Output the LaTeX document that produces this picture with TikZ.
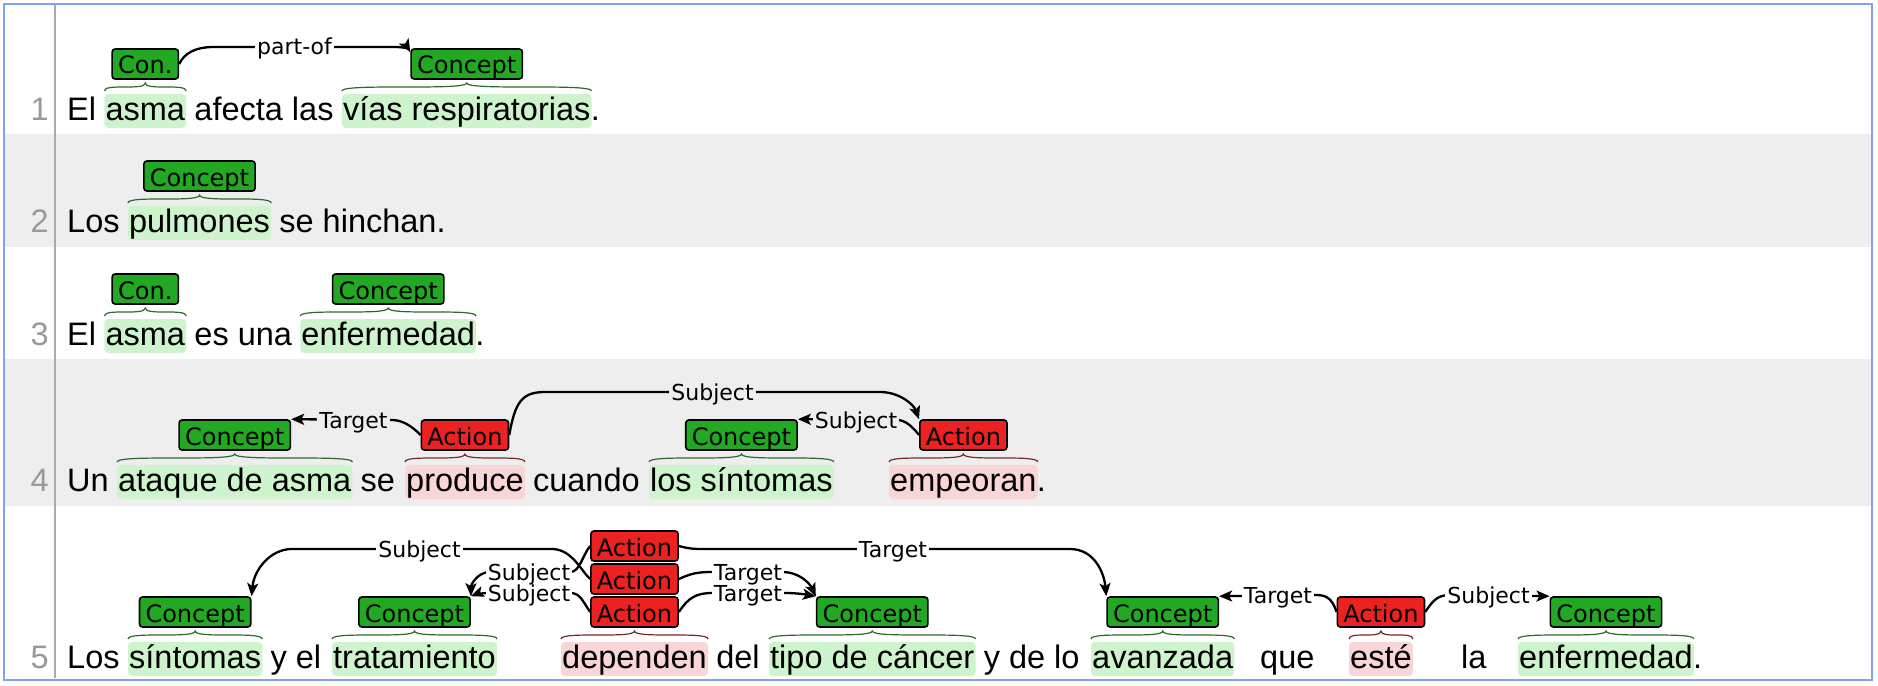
\documentclass[tikz,border=0pt]{standalone}
\usepackage{fontspec}
\setmainfont{Liberation Sans}
\newfontfamily\lblf{DejaVu Sans}
\usetikzlibrary{calc,arrows.meta}
\definecolor{cg}{RGB}{34,168,34}
\definecolor{cr}{RGB}{236,34,34}
\definecolor{hlg}{RGB}{205,244,205}
\definecolor{hlr}{RGB}{249,214,214}
\definecolor{brg}{RGB}{45,105,45}
\definecolor{brr}{RGB}{120,40,40}
\definecolor{rowgrey}{RGB}{238,238,238}
\definecolor{numgrey}{RGB}{153,153,153}
\definecolor{sepgrey}{RGB}{170,170,170}
\definecolor{bordercol}{RGB}{128,160,250}
\pgfdeclarelayer{bg}
\pgfsetlayers{bg,main}
\def\spc{9.04}
\tikzset{
  txt/.style={anchor=base west, inner sep=0pt, font=\fontsize{32.5}{39}\selectfont},
  lnum/.style={anchor=base east, inner sep=0pt, text=numgrey, font=\fontsize{32.5}{39}\selectfont},
  lbox/.style={draw=black, line width=1.6pt, rounded corners=3pt, inner xsep=6pt, inner ysep=0pt,
    text height=25pt, text depth=5pt, anchor=base, font=\lblf\fontsize{24}{28}\selectfont},
  alab/.style={fill=white, inner xsep=2pt, inner ysep=0pt, text height=16pt, text depth=0pt,
    font=\lblf\fontsize{22}{26}\selectfont},
  alabg/.style={alab, fill=rowgrey},
  arc/.style={draw=black, line width=2.3pt, -{Stealth[length=13pt,width=11pt,inset=3pt]}},
  brcg/.style={draw=brg, line width=1.2pt},
  brcr/.style={draw=brr, line width=1.2pt}
}
\newcommand\annotw[5]{%
  \begin{pgfonlayer}{bg}
    \fill[hl#4, rounded corners=4pt] ($(#1.base west)+(-1,26)$) rectangle ($(#1.base east)+(1,-8)$);
  \end{pgfonlayer}
  \draw[brc#4] let \p1=(#1.base west), \p2=(#1.base east), \n1={(\x1+\x2)/2} in
    (\x1-1,\y1+29) .. controls (\x1-1,\y1+37) and (\n1,\y1+29) .. (\n1,\y1+37)
    .. controls (\n1,\y1+29) and (\x2+1,\y1+37) .. (\x2+1,\y1+29);
  \node[lbox, fill=c#4] (#2) at ($(#1.base)+(0,#5)$) {#3};
}
\begin{document}
\begin{tikzpicture}[x=1pt,y=1pt]
\useasboundingbox (0,0) rectangle (1878,-685);
\begin{pgfonlayer}{bg}
  \fill[white] (0,0) rectangle (1878,-685);
  \fill[rowgrey] (5,-134) rectangle (1871,-247);
  \fill[rowgrey] (5,-359) rectangle (1871,-506);
\end{pgfonlayer}
\draw[sepgrey, line width=1.5pt] (55,-5) -- (55,-678);

% line numbers
\node[lnum] (n1) at (49,-120) {1};
\node[lnum] (n2) at (49,-232) {2};
\node[lnum] (n3) at (49,-345) {3};
\node[lnum] (n4) at (49,-491) {4};
\node[lnum] (n5) at (49,-668) {5};

% row 1
\node[txt] (r1a) at (67,-120) {El};
\node[txt] (r1w1) at ($(r1a.base east)+(\spc,0)$) {asma};
\node[txt] (r1b) at ($(r1w1.base east)+(\spc,0)$) {afecta las};
\node[txt] (r1w2) at ($(r1b.base east)+(\spc,0)$) {vías respiratorias};
\node[txt] (r1c) at (r1w2.base east) {.};
\annotw{r1w1}{b11}{Con.}{g}{46}
\annotw{r1w2}{b12}{Concept}{g}{46}

% row 2
\node[txt] (r2a) at (67,-232) {Los};
\node[txt] (r2w1) at ($(r2a.base east)+(\spc,0)$) {pulmones};
\node[txt] (r2b) at ($(r2w1.base east)+(\spc,0)$) {se hinchan.};
\annotw{r2w1}{b21}{Concept}{g}{46}

% row 3
\node[txt] (r3a) at (67,-345) {El};
\node[txt] (r3w1) at ($(r3a.base east)+(\spc,0)$) {asma};
\node[txt] (r3b) at ($(r3w1.base east)+(\spc,0)$) {es una};
\node[txt] (r3w2) at ($(r3b.base east)+(\spc,0)$) {enfermedad};
\node[txt] (r3c) at (r3w2.base east) {.};
\annotw{r3w1}{b31}{Con.}{g}{46}
\annotw{r3w2}{b32}{Concept}{g}{46}

% row 4
\node[txt] (r4a) at (67,-491) {Un};
\node[txt] (r4w1) at (118,-491) {ataque de asma};
\node[txt] (r4b) at ($(r4w1.base east)+(\spc,0)$) {se};
\node[txt] (r4w2) at (406,-491) {produce};
\node[txt] (r4c) at ($(r4w2.base east)+(\spc,0)$) {cuando};
\node[txt] (r4w3) at (650,-491) {los síntomas};
\node[txt] (r4w4) at (890,-491) {empeoran};
\node[txt] (r4d) at (r4w4.base east) {.};
\annotw{r4w1}{c41}{Concept}{g}{46}
\annotw{r4w2}{a41}{Action}{r}{46}
\annotw{r4w3}{c42}{Concept}{g}{46}
\annotw{r4w4}{a42}{Action}{r}{46}

% row 5
\node[txt] (r5a) at (67,-668) {Los};
\node[txt] (r5w1) at (129,-668) {síntomas};
\node[txt] (r5b) at ($(r5w1.base east)+(\spc,0)$) {y el};
\node[txt] (r5w2) at (333,-668) {tratamiento};
\node[txt] (r5w3) at (562,-668) {dependen};
\node[txt] (r5c) at ($(r5w3.base east)+(\spc,0)$) {del};
\node[txt] (r5w4) at (770,-668) {tipo de cáncer};
\node[txt] (r5d) at ($(r5w4.base east)+(\spc,0)$) {y de lo};
\node[txt] (r5w5) at (1092,-668) {avanzada};
\node[txt] (r5e) at (1260,-668) {que};
\node[txt] (r5w6) at (1350,-668) {esté};
\node[txt] (r5f) at (1461,-668) {la};
\node[txt] (r5w7) at (1519,-668) {enfermedad};
\node[txt] (r5g) at (r5w7.base east) {.};
\annotw{r5w1}{c51}{Concept}{g}{46}
\annotw{r5w2}{c52}{Concept}{g}{46}
\annotw{r5w3}{a53}{Action}{r}{46}
\node[lbox, fill=cr] (a52) at ($(r5w3.base)+(0,79)$) {Action};
\node[lbox, fill=cr] (a51) at ($(r5w3.base)+(0,112)$) {Action};
\annotw{r5w4}{c53}{Concept}{g}{46}
\annotw{r5w5}{c54}{Concept}{g}{46}
\annotw{r5w6}{a54}{Action}{r}{46}
\annotw{r5w7}{c55}{Concept}{g}{46}

% arcs row 1
\draw[arc] (b11.east) .. controls (184,-54) and (194,-47) .. (214,-47) -- (396,-47)
  .. controls (404,-47) and (409,-50) .. ($(b12.north west)+(0,-4)$);
% arcs row 4
\draw[arc] (a41.west) .. controls (412,-426) and (402,-420) .. (392,-420) -- (c41.north east);
\draw[arc] (a41.east) .. controls (515,-402) and (522,-392) .. (545,-392) -- (880,-392)
  .. controls (900,-392) and (914,-405) .. (a42.north west);
\draw[arc] (a42.west) .. controls (912,-426) and (905,-420) .. (897,-420) -- (c42.north east);
% arcs row 5
\draw[arc] (a52.west) .. controls (582,-572) and (572,-549) .. (552,-549) -- (292,-549)
  .. controls (270,-549) and (254,-570) .. (c51.north east);
\draw[arc] (a51.west) .. controls (582,-556) and (580,-572) .. (570,-572) -- (490,-572)
  .. controls (478,-572) and (471,-584) .. (c52.north east);
\draw[arc] (a53.west) .. controls (582,-600) and (580,-593) .. (570,-593) -- (490,-593)
  .. controls (480,-593) and (474,-595) .. (c52.north east);
\draw[arc] (a51.east) .. controls (690,-549) and (695,-549) .. (705,-549) -- (1070,-549)
  .. controls (1094,-549) and (1104,-572) .. (c54.north west);
\draw[arc] (a52.east) .. controls (690,-574) and (696,-572) .. (712,-572) -- (782,-572)
  .. controls (800,-572) and (810,-584) .. (c53.north west);
\draw[arc] (a53.east) .. controls (688,-598) and (696,-593) .. (712,-593) -- (784,-593)
  .. controls (800,-593) and (808,-595) .. (c53.north west);
\draw[arc] (a54.west) .. controls (1332,-598) and (1326,-595) .. (1316,-595) -- (c54.north east);
\draw[arc] (a54.east) .. controls (1434,-598) and (1440,-595) .. (1450,-595) -- (c55.north west);

% arc labels
\node[alab] (l11) at (294.5,-47) {part-of};
\node[alabg] (l41) at (353.5,-420) {Target};
\node[alabg] (l42) at (712.5,-392) {Subject};
\node[alabg] (l43) at (856,-420) {Subject};
\node[alab] (l51) at (419.5,-549) {Subject};
\node[alab] (l52) at (529,-572) {Subject};
\node[alab] (l53) at (529,-593) {Subject};
\node[alab] (l54) at (893,-549) {Target};
\node[alab] (l55) at (748,-572) {Target};
\node[alab] (l56) at (748,-593) {Target};
\node[alab] (l57) at (1278,-595) {Target};
\node[alab] (l58) at (1488.5,-595) {Subject};

% border
\draw[bordercol, line width=2pt] (4,-4) rectangle (1872,-679.5);
\end{tikzpicture}
\end{document}
